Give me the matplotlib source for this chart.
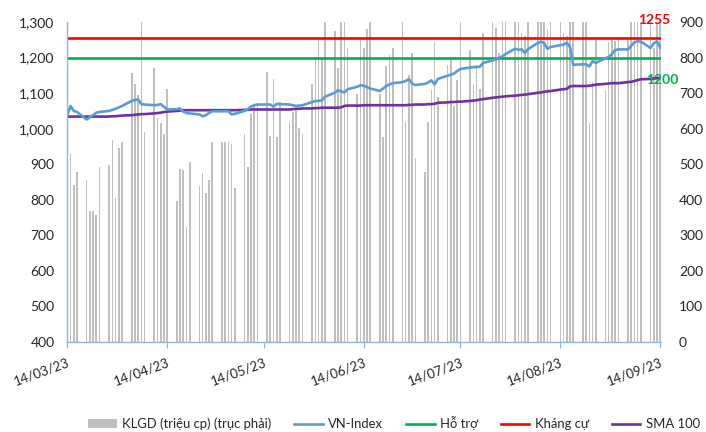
import numpy as np
import pandas as pd
import matplotlib
matplotlib.use("Agg")
import matplotlib.pyplot as plt
import matplotlib.dates as mdates
from matplotlib.patches import Patch
from matplotlib.lines import Line2D

plt.rcParams['font.family'] = ['Lato', 'DejaVu Sans']

# trading days (weekdays) 14/03/23 -> 14/09/23
dates = pd.bdate_range('2023-03-14', '2023-09-14')

# VN-Index close
vnindex = [1038, 1064, 1050, 1047,
           1026, 1032, 1038, 1045, 1047,
           1050, 1053, 1056, 1060, 1064,
           1078, 1081, 1082, 1069, 1068,
           1066, 1067, 1069, 1062, 1054,
           1055, 1057, 1048, 1044, 1043,
           1040, 1035, 1038, 1044, 1049,
           1049, 1049, 1049, 1040, 1042,
           1050, 1055, 1062, 1066, 1068,
           1068, 1068, 1062, 1070, 1069,
           1068, 1066, 1064, 1065, 1066,
           1075, 1078, 1078, 1080, 1090,
           1101, 1108, 1105, 1102, 1111,
           1118, 1122, 1121, 1117, 1113,
           1106, 1113, 1120, 1125, 1128,
           1131, 1134, 1139, 1127, 1123,
           1126, 1130, 1136, 1125, 1140,
           1149, 1152, 1155, 1162, 1168,
           1172, 1173, 1174, 1174, 1185,
           1192, 1195, 1200, 1203, 1210,
           1225, 1222, 1223, 1213, 1224,
           1241, 1245, 1240, 1225, 1230,
           1235, 1236, 1242, 1230, 1180,
           1181, 1181, 1175, 1190, 1185,
           1198, 1202, 1210, 1221, 1223,
           1223, 1233, 1243, 1246, 1245,
           1227, 1240, 1246, 1228]

# SMA 100
sma100 = [1034, 1034, 1034, 1034,
          1034, 1034, 1034, 1034, 1034,
          1034, 1035, 1035, 1036, 1037,
          1038, 1039, 1040, 1041, 1041,
          1043, 1044, 1045, 1047, 1048,
          1050, 1051, 1052, 1052, 1052,
          1052, 1052, 1052, 1052, 1052,
          1052, 1052, 1052, 1052, 1052,
          1053, 1053, 1054, 1054, 1054,
          1054, 1054, 1054, 1054, 1054,
          1054, 1055, 1056, 1056, 1057,
          1057, 1058, 1058, 1059, 1059,
          1059, 1059, 1060, 1064, 1065,
          1065, 1065, 1066, 1066, 1066,
          1066, 1066, 1066, 1066, 1066,
          1066, 1066, 1067, 1067, 1068,
          1068, 1069, 1069, 1070, 1073,
          1074, 1075, 1075, 1076, 1076,
          1078, 1079, 1080, 1082, 1083,
          1087, 1088, 1089, 1090, 1091,
          1093, 1094, 1095, 1096, 1097,
          1101, 1102, 1104, 1105, 1106,
          1110, 1111, 1112, 1119, 1120,
          1120, 1120, 1121, 1122, 1124,
          1126, 1127, 1128, 1128, 1128,
          1131, 1132, 1134, 1137, 1139,
          1140, 1141, 1142, 1143]

# KLGD (trieu cp), right axis
volume = [535, 530, 443, 479,
          457, 368, 368, 357, 492,
          498, 568, 406, 545, 562,
          757, 727, 695, 1020, 591,
          772, 629, 615, 584, 711,
          397, 487, 483, 323, 506,
          440, 474, 420, 456, 563,
          563, 563, 563, 556, 432,
          584, 493, 640, 667, 671,
          760, 580, 741, 577, 676,
          620, 648, 652, 601, 584,
          725, 795, 849, 800, 960,
          875, 770, 980, 1010, 828,
          697, 852, 826, 880, 1050,
          697, 577, 777, 807, 826,
          990, 620, 751, 812, 517,
          479, 620, 709, 843, 690,
          779, 802, 665, 737, 1100,
          821, 727, 779, 713, 868,
          1040, 882, 812, 1150, 1080,
          1120, 1060, 870, 860, 1010,
          1190, 1250, 1080, 880, 1020,
          1110, 870, 860, 1070, 1300,
          1150, 990, 615, 732, 849,
          709, 845, 850, 848, 849,
          849, 1100, 1210, 1050, 1180,
          1130, 826, 900, 1020]

support = 1200
resistance = 1255

tick_dates = pd.to_datetime(['2023-03-14', '2023-04-14', '2023-05-14', '2023-06-14',
                             '2023-07-14', '2023-08-14', '2023-09-14'])

txt = '#262626'
axis_col = '#8EB4E3'

fig = plt.figure(figsize=(7.06, 4.32), dpi=100)
ax = fig.add_axes([0.0949, 0.2083, 0.8414, 0.7407])
ax2 = ax.twinx()

# volume bars on right axis (drawn behind)
ax2.bar(dates, volume, width=0.5, color='#BFBFBF', linewidth=0)
ax2.set_ylim(0, 900)
ax2.set_yticks(range(0, 901, 100))

# index lines on left axis (drawn on top)
ax.set_zorder(ax2.get_zorder() + 1)
ax.patch.set_visible(False)
ax.plot(dates, [support] * len(dates), color='#00B050', lw=1.9)
ax.plot(dates, [resistance] * len(dates), color='#FF0000', lw=1.9)
ax.plot(dates, sma100, color='#7030A0', lw=1.9)
ax.plot(dates, vnindex, color='#5B9BD5', lw=1.9)
ax.set_ylim(400, 1300)
ax.set_yticks(range(400, 1301, 100))
ax.yaxis.set_major_formatter(matplotlib.ticker.FuncFormatter(lambda v, p: f'{int(v):,}'))

ax.set_xlim(dates[0] - pd.Timedelta(hours=2), dates[-1] + pd.Timedelta(hours=6))
ax.set_xticks(tick_dates)
ax.xaxis.set_major_formatter(mdates.DateFormatter('%d/%m/%y'))
for lab in ax.get_xticklabels():
    lab.set_rotation(20)
    lab.set_ha('right')
    lab.set_rotation_mode('anchor')

# end labels
ax.text(dates[-1] + pd.Timedelta(days=-2), 1306, str(resistance), color='#FF0000',
        fontsize=10, fontweight='bold', ha='center', va='center')
ax.text(dates[-1] + pd.Timedelta(days=0.5), 1138, str(support), color='#00B050',
        fontsize=10, fontweight='bold', ha='center', va='center')

for a in (ax, ax2):
    for s in ('top', 'right', 'left', 'bottom'):
        a.spines[s].set_visible(False)
ax.spines['left'].set_visible(True)
ax.spines['left'].set_color(axis_col)
ax.spines['bottom'].set_visible(True)
ax.spines['bottom'].set_color(axis_col)
ax.spines['left'].set_linewidth(1.0)
ax.spines['bottom'].set_linewidth(1.0)

ax.tick_params(axis='y', length=0, pad=9, labelsize=10, labelcolor=txt)
ax.tick_params(axis='x', length=4, color=axis_col, pad=6, labelsize=9.5, labelcolor=txt)
ax2.tick_params(axis='y', length=0, pad=13, labelsize=10, labelcolor=txt)

handles = [Patch(facecolor='#BFBFBF', edgecolor='none'),
           Line2D([], [], color='#5B9BD5', lw=1.9),
           Line2D([], [], color='#00B050', lw=1.9),
           Line2D([], [], color='#FF0000', lw=1.9),
           Line2D([], [], color='#7030A0', lw=1.9)]
labels = ['KLGD (triệu cp) (trục phải)', 'VN-Index', 'Hỗ trợ', 'Kháng cự', 'SMA 100']
fig.legend(handles, labels, loc='center left', bbox_to_anchor=(0.108, 0.02),
           ncol=5, frameon=False, fontsize=9.4, handlelength=2.2, handleheight=0.7,
           handletextpad=0.4, columnspacing=1.75, labelcolor=txt)

fig.savefig('out.png', dpi=100)
